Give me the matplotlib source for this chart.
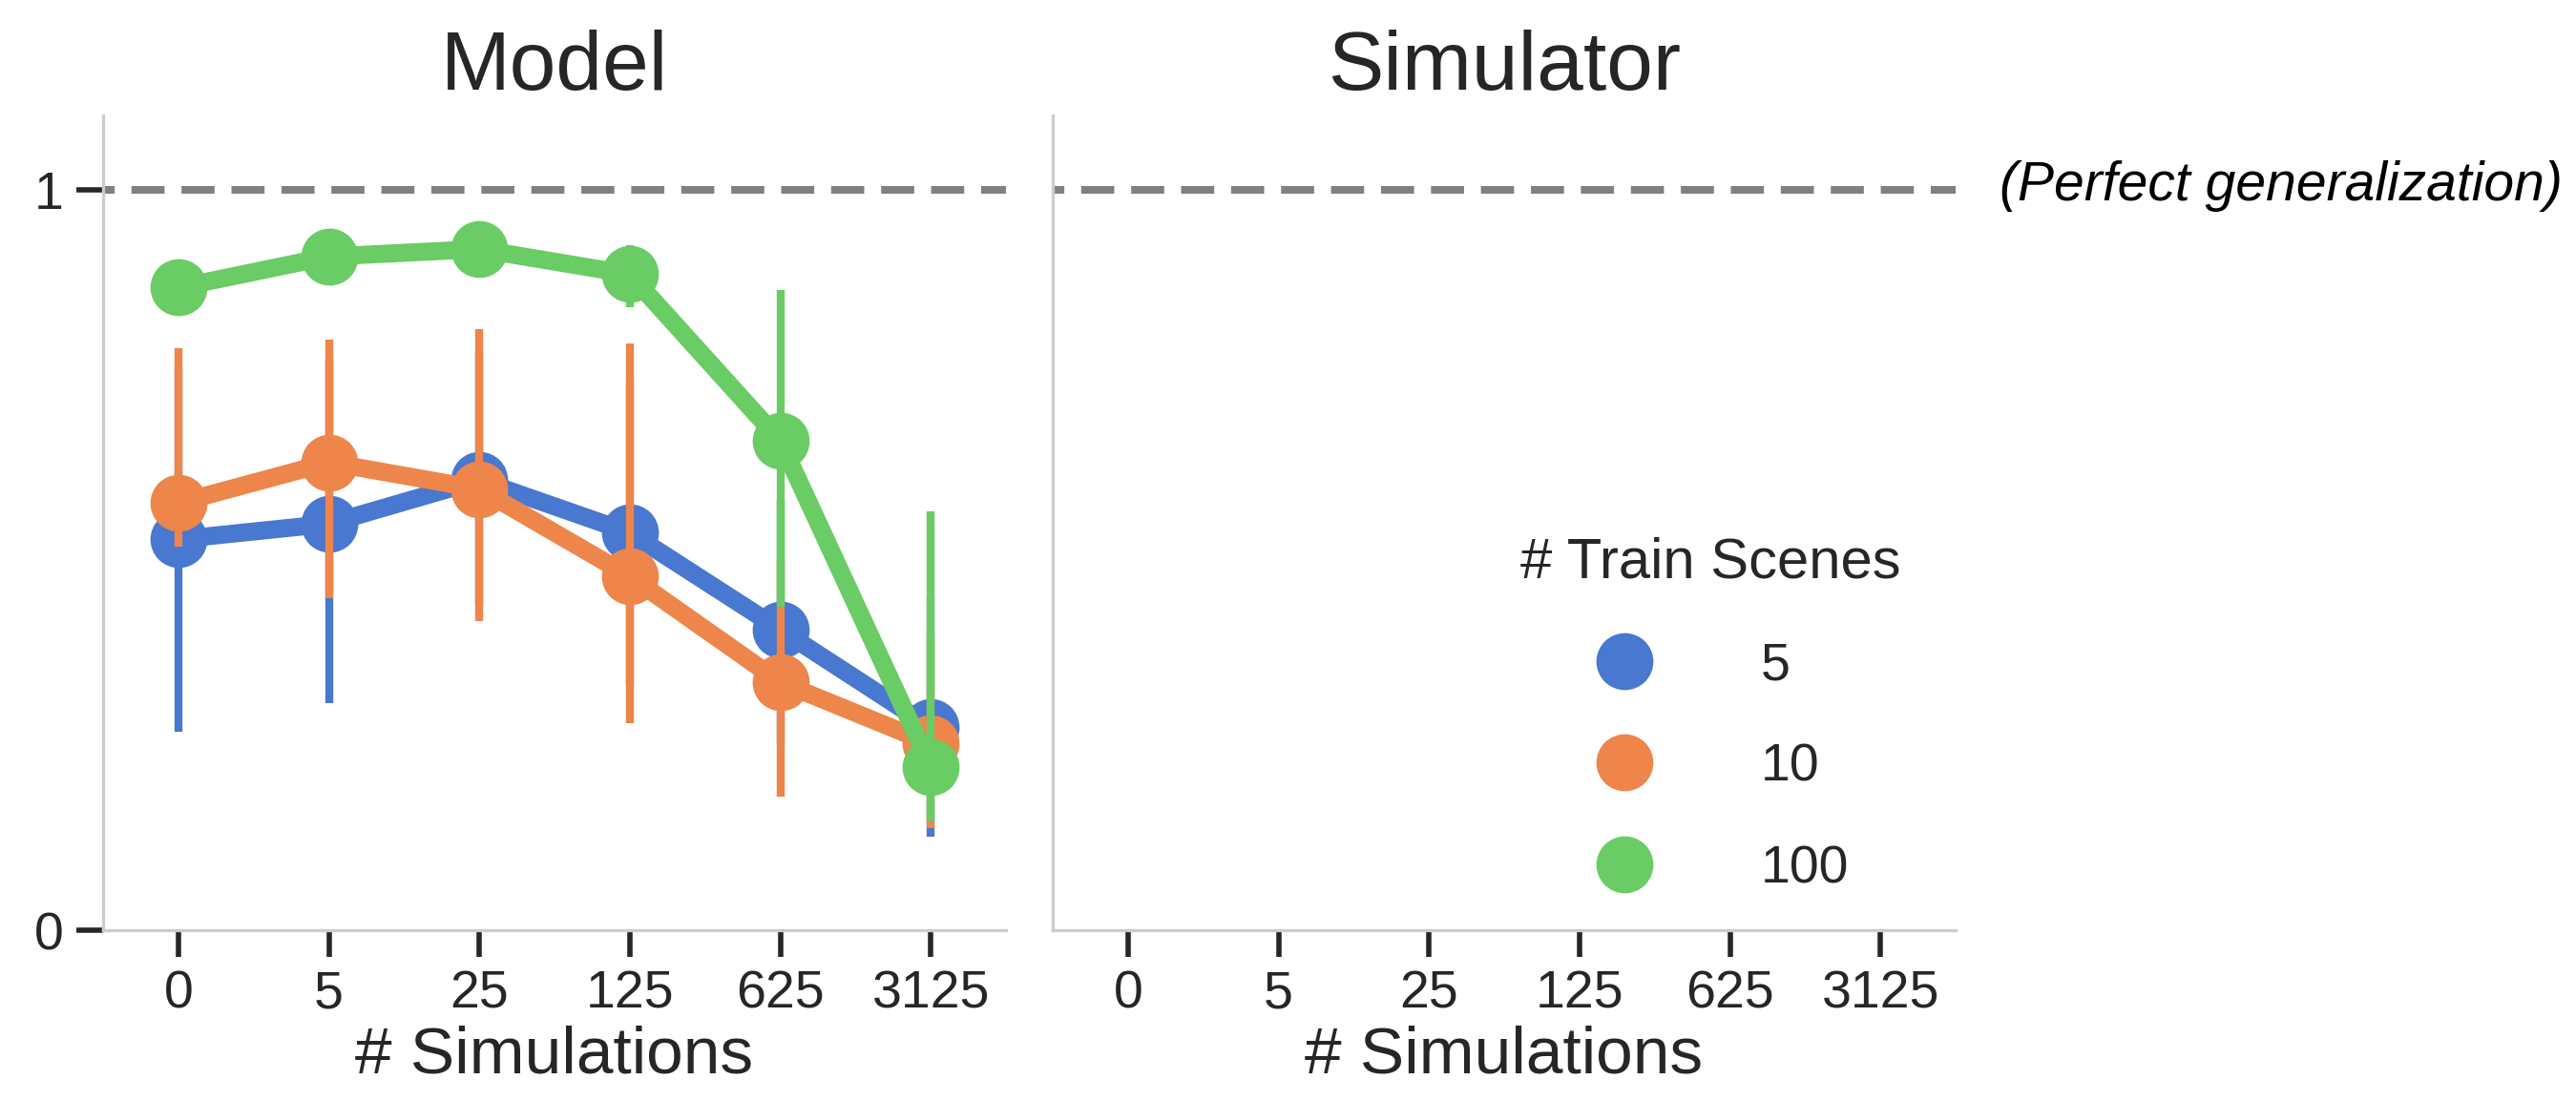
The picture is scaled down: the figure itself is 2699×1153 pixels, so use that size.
import matplotlib
matplotlib.use("Agg")
import matplotlib.pyplot as plt
from matplotlib.lines import Line2D
from matplotlib.transforms import blended_transform_factory

# ---- data -------------------------------------------------------------
sim_labels = ["0", "5", "25", "125", "625", "3125"]
train_scenes = ["5", "10", "100"]

# mean generalization score per number of simulations
score_5 = [0.528, 0.549, 0.608, 0.537, 0.406, 0.274]
score_10 = [0.577, 0.632, 0.596, 0.478, 0.335, 0.252]
score_100 = [0.868, 0.910, 0.920, 0.886, 0.661, 0.221]

# confidence intervals (lower / upper)
ci_lo_5 = [0.268, 0.307, 0.440, 0.330, 0.250, 0.126]
ci_hi_5 = [0.760, 0.770, 0.780, 0.740, 0.580, 0.450]
ci_lo_10 = [0.518, 0.449, 0.418, 0.280, 0.180, 0.138]
ci_hi_10 = [0.786, 0.798, 0.812, 0.792, 0.500, 0.400]
ci_lo_100 = [0.850, 0.890, 0.900, 0.841, 0.437, 0.147]
ci_hi_100 = [0.890, 0.930, 0.940, 0.925, 0.865, 0.566]

palette = ["#4878d0", "#ee854a", "#6acc64"]

# ---- style ------------------------------------------------------------
plt.rcParams["font.family"] = ["Liberation Sans", "DejaVu Sans"]
TEXT = "#262626"
SPINE = "#cccccc"

W, H, DPI = 2699, 1153, 200
fig = plt.figure(figsize=(W / DPI, H / DPI), dpi=DPI)

ax_bottom = 1 - 975 / H
ax_height = 853.6 / H
ax_width = 946 / W
ax_model = fig.add_axes([108 / W, ax_bottom, ax_width, ax_height])
ax_sim = fig.add_axes([1103 / W, ax_bottom, ax_width, ax_height])

xpos = list(range(len(sim_labels)))

series = [
    (score_5, ci_lo_5, ci_hi_5),
    (score_10, ci_lo_10, ci_hi_10),
    (score_100, ci_lo_100, ci_hi_100),
]

MS = 21.5
for i, (vals, lo, hi) in enumerate(series):
    col = palette[i]
    z = 3 + i
    ax_model.vlines(xpos, lo, hi, colors=col, lw=3.0, zorder=z)
    ax_model.plot(xpos, vals, color=col, lw=6.8, marker="o", ms=MS,
                  mew=0, zorder=z, solid_joinstyle="round",
                  solid_capstyle="round")

for ax, title in [(ax_model, "Model"), (ax_sim, "Simulator")]:
    ax.set_xlim(-0.5, len(sim_labels) - 0.5)
    ax.set_ylim(0, 1.1)
    ax.set_xticks(xpos)
    ax.set_xticklabels(sim_labels)
    ax.set_title(title, fontsize=31.5, pad=10, color=TEXT)
    ax.set_xlabel("# Simulations", fontsize=25, color=TEXT, labelpad=2)
    ax.axhline(1, color="#808080", lw=2.9, ls=(2.8, (4.3, 2.2)), zorder=2)
    for side in ["top", "right"]:
        ax.spines[side].set_visible(False)
    for side in ["left", "bottom"]:
        ax.spines[side].set_color(SPINE)
        ax.spines[side].set_linewidth(1.2)
    ax.tick_params(axis="both", length=10, width=2, color=TEXT,
                   labelsize=20, labelcolor=TEXT, pad=5)

ax_model.set_yticks([0, 1])
ax_model.set_yticklabels(["0", "1"])
ax_sim.set_yticks([])

# label for the reference line, to the right of the simulator panel
trans = blended_transform_factory(fig.transFigure, ax_sim.transData)
ax_sim.text(2095 / W, 1.005, "(Perfect generalization)", transform=trans,
            fontsize=20.5, style="italic", color="black", va="center",
            ha="left")

handles = [Line2D([], [], ls="none", marker="o", ms=MS, mew=0, color=c)
           for c in palette]
leg = fig.legend(handles, train_scenes, title="# Train Scenes",
                 loc="center", bbox_to_anchor=(1792 / W, 1 - 750 / H),
                 frameon=False, fontsize=20, title_fontsize=21.5,
                 handlelength=2.0, handletextpad=1.57, labelspacing=0.98,
                 borderpad=0)
for t in leg.get_texts():
    t.set_color(TEXT)
leg.get_title().set_color(TEXT)

fig.savefig("out.png", dpi=DPI)
